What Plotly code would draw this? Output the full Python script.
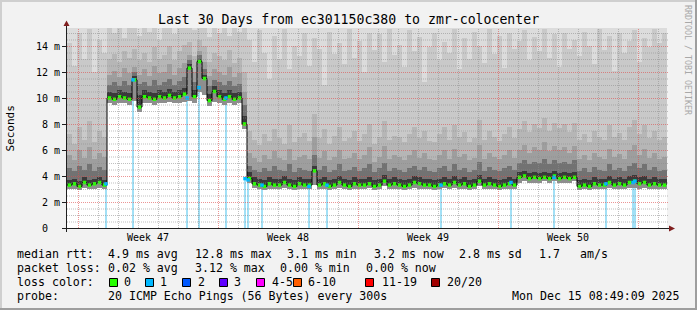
import plotly.graph_objects as go

# ---------------- data ----------------
BIN_DAYS = 0.25          # one column = 6 hours, 120 columns = 30 days

median = [3.3,3.4,3.2,3.5,3.3,3.4,3.5,3.3,10.0,9.9,
          10.1,10.0,9.9,11.4,9.3,10.1,10.0,9.9,10.1,10.0,
          10.2,10.0,10.1,10.3,12.3,10.1,12.8,11.5,9.8,10.5,
          10.1,9.9,10.1,9.9,10.0,8.0,3.8,3.4,3.3,3.2,
          3.4,3.3,3.3,3.5,3.3,3.2,3.4,3.3,3.3,4.4,
          3.3,3.4,3.2,3.3,3.5,3.3,3.2,3.4,3.3,3.3,
          3.4,3.2,3.3,3.6,3.3,3.4,3.3,3.2,3.3,3.5,
          3.4,3.3,3.3,3.2,3.3,3.4,3.3,3.5,3.3,3.4,
          3.2,3.3,3.6,3.3,3.4,3.3,3.2,3.3,3.4,3.3,
          3.9,4.0,3.8,3.9,3.8,3.9,3.8,4.0,3.8,3.9,
          3.8,3.9,3.2,3.3,3.2,3.4,3.3,3.3,3.5,3.3,
          3.4,3.3,3.5,3.6,3.4,3.5,3.3,3.4,3.3,3.3]

ping_min = [3.0,3.0,2.9,3.1,3.0,3.0,3.1,3.0,9.6,9.5,
            9.6,9.6,9.5,9.8,8.9,9.6,9.6,9.5,9.6,9.6,
            9.7,9.6,9.6,9.7,9.8,9.6,10.5,10.2,9.4,9.7,
            9.6,9.5,9.6,9.5,9.6,7.6,3.5,3.1,3.0,2.9,
            3.0,3.0,3.0,3.1,3.0,2.9,3.0,3.0,3.0,3.3,
            3.0,3.0,2.9,3.0,3.1,3.0,2.9,3.0,3.0,3.0,
            3.1,2.9,3.0,3.2,3.0,3.0,3.0,2.9,3.0,3.1,
            3.0,3.0,3.0,2.9,3.0,3.1,3.0,3.1,3.0,3.0,
            2.9,3.0,3.2,3.0,3.0,3.0,2.9,3.0,3.0,3.0,
            3.5,3.6,3.5,3.5,3.5,3.6,3.5,3.6,3.5,3.5,
            3.5,3.6,2.9,3.0,2.9,3.0,3.0,3.0,3.1,3.0,
            3.0,3.0,3.1,3.1,3.0,3.1,3.0,3.0,3.0,3.0]

smoke_1 = [3.7,3.8,3.6,3.9,3.7,3.8,3.9,3.7,10.5,10.4,
           10.6,10.5,10.4,11.7,10.2,10.6,10.5,10.4,10.6,10.5,
           10.7,10.5,10.6,10.8,12.6,10.6,13.0,11.8,10.3,10.9,
           10.6,10.4,10.6,10.4,10.5,8.6,4.3,3.9,3.8,3.7,
           3.9,3.8,3.8,4.0,3.8,3.7,3.9,3.8,3.8,4.8,
           3.8,3.9,3.7,3.8,4.0,3.8,3.7,3.9,3.8,3.8,
           3.9,3.7,3.8,4.1,3.8,3.9,3.8,3.7,3.8,4.0,
           3.9,3.8,3.8,3.7,3.8,3.9,3.8,4.0,3.8,3.9,
           3.7,3.8,4.1,3.8,3.9,3.8,3.7,3.8,3.9,3.8,
           4.3,4.4,4.2,4.3,4.2,4.3,4.2,4.4,4.2,4.3,
           4.2,4.3,3.7,3.8,3.7,3.9,3.8,3.8,4.0,3.8,
           3.9,3.8,4.0,4.1,3.9,4.0,3.8,3.9,3.8,3.8]

smoke_2 = [4.6,4.4,4.8,4.5,4.9,4.4,4.7,4.5,11.0,11.2,
           10.9,11.3,11.0,12.0,11.1,11.2,10.9,11.4,11.0,11.2,
           11.5,11.0,11.3,11.6,12.9,11.2,13.3,12.2,10.9,11.4,
           11.2,11.0,11.3,10.9,11.1,9.5,4.8,4.5,4.3,4.6,
           4.4,4.8,4.5,4.4,4.9,4.3,4.6,4.5,4.4,5.6,
           4.5,4.8,4.3,4.5,4.9,4.4,4.5,4.7,4.4,4.6,
           4.9,4.3,4.6,5.0,4.4,4.6,4.5,4.3,4.6,4.8,
           4.5,4.7,4.4,4.3,4.6,4.8,4.4,4.9,4.5,4.6,
           4.3,4.5,5.1,4.4,4.7,4.5,4.4,4.6,4.8,4.5,
           5.0,5.2,4.9,5.1,5.0,5.3,4.9,5.2,5.0,5.1,
           4.9,5.2,4.4,4.6,4.3,4.7,4.5,4.4,4.9,4.5,
           4.6,4.4,4.8,5.0,4.6,4.9,4.5,4.7,4.4,4.5]

smoke_3 = [5.6,5.2,6.0,5.4,6.2,5.3,5.8,5.5,11.8,12.1,
           11.6,12.3,11.9,12.4,11.8,12.2,11.7,12.5,11.9,12.0,
           12.6,11.8,12.3,12.7,13.3,12.0,13.6,12.8,11.7,12.2,
           12.0,11.8,12.4,11.6,11.9,10.5,5.8,5.4,5.1,5.6,
           5.3,5.9,5.4,5.2,6.1,5.2,5.5,5.6,5.3,7.0,
           5.4,5.9,5.2,5.5,6.0,5.3,5.4,5.8,5.3,5.6,
           6.2,5.1,5.5,6.3,5.3,5.6,5.5,5.2,5.6,6.0,
           5.4,5.8,5.3,5.2,5.6,6.0,5.3,6.1,5.5,5.7,
           5.2,5.4,6.4,5.3,5.8,5.5,5.3,5.6,6.0,5.4,
           6.0,6.4,5.8,6.2,6.0,6.6,5.9,6.3,6.0,6.2,
           5.8,6.3,5.3,5.6,5.2,5.8,5.5,5.3,6.1,5.5,
           5.7,5.3,6.0,6.4,5.6,6.1,5.4,5.8,5.3,5.5]

smoke_4 = [7.2,6.5,7.8,6.8,8.2,6.6,7.5,7.0,13.0,13.4,
           12.8,13.6,13.1,13.8,12.9,13.5,12.8,13.9,13.0,13.3,
           14.0,12.9,13.6,14.1,14.3,13.2,14.5,14.0,12.8,13.5,
           13.2,12.9,13.7,12.7,13.1,12.0,7.5,6.8,6.4,7.2,
           6.7,7.6,6.9,6.5,7.9,6.6,7.0,7.3,6.7,8.8,
           6.9,7.6,6.5,7.1,7.8,6.7,6.9,7.5,6.7,7.2,
           8.0,6.5,7.0,8.2,6.8,7.1,7.0,6.6,7.2,7.8,
           6.9,7.5,6.7,6.6,7.2,7.8,6.8,7.9,7.0,7.4,
           6.6,6.9,8.3,6.8,7.5,7.0,6.7,7.2,7.8,6.9,
           7.6,8.2,7.4,8.0,7.7,8.5,7.5,8.1,7.7,8.0,
           7.4,8.1,6.8,7.2,6.6,7.5,7.0,6.8,7.9,7.0,
           7.3,6.8,7.8,8.3,7.2,7.9,6.9,7.5,6.8,7.0]

smoke_5 = [14.2,12.5,15.0,13.0,15.3,12.0,14.5,13.5,15.4,15.0,
           15.4,14.6,15.4,15.4,14.8,15.4,15.1,15.4,14.5,15.4,
           15.4,14.9,15.4,15.4,15.4,15.2,15.4,15.4,14.7,15.4,
           15.0,15.4,14.8,15.4,15.1,15.4,14.5,12.8,15.2,13.5,
           11.5,14.8,13.0,15.3,12.2,14.0,13.2,15.0,12.5,14.6,
           13.8,11.0,15.1,13.4,14.2,12.6,15.3,13.1,14.4,12.0,
           15.0,13.7,14.9,12.8,15.3,13.3,14.1,12.4,15.2,13.6,
           14.7,11.2,13.9,15.0,12.9,14.3,13.5,15.3,12.2,14.6,
           13.0,15.1,14.0,12.7,15.3,13.4,14.8,12.3,15.0,13.8,
           14.4,15.2,12.9,14.7,13.6,15.3,13.1,14.9,12.4,15.0,
           13.8,14.5,13.2,15.1,14.0,12.6,15.3,13.7,14.8,12.1,
           15.0,13.5,14.4,15.2,12.8,14.6,13.9,15.3,14.2,15.0]

# outermost ping: above the top of the chart everywhere (clipped)
ping_max = [17.1,18.4,16.9,19.2,17.7,18.0,16.5,17.9,19.8,20.3,
            18.6,19.1,17.4,21.0,18.2,19.5,18.8,20.1,17.6,18.9,
            19.4,18.1,20.6,19.9,21.7,18.5,22.3,20.8,17.8,19.3,
            18.7,19.6,18.3,20.0,18.9,19.2,17.3,16.8,18.1,17.0,
            16.6,17.8,16.9,18.3,16.7,17.5,17.1,18.6,16.8,17.9,
            17.2,16.5,18.0,17.4,17.7,16.9,18.4,17.0,17.6,16.7,
            18.2,17.3,17.9,16.8,18.5,17.1,17.6,16.9,18.1,17.4,
            17.8,16.6,17.5,18.3,17.0,17.7,17.2,18.4,16.8,17.9,
            17.1,18.2,17.6,16.9,18.5,17.3,17.8,16.7,18.0,17.4,
            17.9,18.6,17.0,18.1,17.5,18.7,17.2,18.3,16.9,18.2,
            17.6,18.0,17.1,18.4,17.7,16.9,18.6,17.3,17.9,16.8,
            18.2,17.4,17.8,18.5,17.0,17.9,17.5,18.6,17.7,18.1]

loss_day = [1.95, 3.3, 6.0, 6.6, 7.95, 8.9, 9.05, 9.75, 12.1, 13.0,
            18.7, 22.2, 24.35, 26.95, 28.3, 28.4]
loss_rtt = [3.4, 11.4, 10.0, 10.8, 10.0, 3.8, 3.7, 3.3, 3.2, 3.3,
            3.3, 3.5, 3.9, 3.4, 3.5, 3.6]

week_day = [4.05, 11.05, 18.05, 25.05]
week_text = ["Week 47", "Week 48", "Week 49", "Week 50"]
ytick_vals = [0, 2, 4, 6, 8, 10, 12, 14]
ytick_text = ["0\u00a0\u00a0", "2 m", "4 m", "6 m", "8 m", "10 m", "12 m", "14 m"]

title_text = "Last 30 Days from ec301150c380 to zmr-colocenter"
rtt_label = "median rtt:"
rtt_stats = ["4.9 ms avg", "12.8 ms max", "3.1 ms min", "3.2 ms now", "2.8 ms sd", "1.7", "am/s"]
loss_label = "packet loss:"
loss_stats = ["0.02 % avg", "3.12 % max", "0.00 % min", "0.00 % now"]
color_label = "loss color:"
loss_classes = ["0", "1", "2", "3", "4-5", "6-10", "11-19", "20/20"]
loss_colors = ["#26ff00", "#00b8ff", "#0059ff", "#5e00ff", "#ff00ff", "#ff5e00", "#ff0000", "#a10000"]
probe_label = "probe:"
probe_text = "20 ICMP Echo Pings (56 Bytes) every 300s"
stamp_text = "Mon Dec 15 08:49:09 2025"
watermark = "RRDTOOL / TOBI OETIKER"

# ---------------- layout helpers ----------------
W, H = 697, 310
L, R, T, B = 67, 667, 28, 228
YMAX = 200 / 13.0
FONT = "DejaVu Sans Mono"


def px(x):
    return (x - L) / (R - L)


def py(y):
    return (B - y) / (B - T)


n = len(median)
starts = [i * BIN_DAYS for i in range(n)]
centers = [s + BIN_DAYS / 2 for s in starts]

fig = go.Figure()

# loss stripes
fig.add_trace(go.Bar(x=loss_day, y=loss_rtt, base=[0] * len(loss_day), width=0.1,
                     marker=dict(color="#a2e0f6", line=dict(width=0)), hoverinfo="skip"))

bands = [
    (ping_min, median, "#8e8e8e"),
    (median, smoke_1, "#3a3a3a"),
    (smoke_1, smoke_2, "#727272"),
    (smoke_2, smoke_3, "#9e9e9e"),
    (smoke_3, smoke_4, "#b6b6b6"),
    (smoke_4, smoke_5, "#c9c9c9"),
    (smoke_5, ping_max, "#dcdcdc"),
]
for lo, hi, col in bands:
    fig.add_trace(go.Bar(x=centers, y=[h - l for l, h in zip(lo, hi)], base=lo, width=BIN_DAYS,
                         marker=dict(color=col, line=dict(width=0)), hoverinfo="skip"))

fig.add_trace(go.Scatter(x=starts, y=median, mode="lines",
                         line=dict(color="#000000", width=1, shape="hv"), hoverinfo="skip"))
fig.add_trace(go.Scatter(x=centers, y=median, mode="markers",
                         marker=dict(symbol="square", size=3.5, color=loss_colors[0], line=dict(width=0)),
                         hoverinfo="skip"))
fig.add_trace(go.Scatter(x=loss_day, y=loss_rtt, mode="markers",
                         marker=dict(symbol="square", size=3.5, color=loss_colors[1], line=dict(width=0)),
                         hoverinfo="skip"))

shapes = []
# grid (drawn above the smoke, like rrdtool)
for k in range(30):
    d = 0.575 + k
    major = (k % 7 == 0)
    shapes.append(dict(type="line", xref="x", yref="paper", x0=d, x1=d, y0=0, y1=1, layer="above",
                       line=dict(color="rgba(222,79,79,0.6)" if major else "rgba(140,140,140,0.55)",
                                 width=1, dash="1px,1px")))
for j in range(1, 31):
    v = 0.5 * j - 0.5 / 13
    major = (j % 4 == 0)
    shapes.append(dict(type="line", xref="paper", yref="y", x0=0, x1=px(668), y0=v, y1=v, layer="above",
                       line=dict(color="rgba(222,79,79,0.6)" if major else "rgba(140,140,140,0.55)",
                                 width=1, dash="1px,1px")))
# axes with arrows
shapes.append(dict(type="line", xref="paper", yref="paper", x0=px(62), x1=px(670), y0=py(228.5), y1=py(228.5),
                   layer="above", line=dict(color="#1f1f1f", width=1)))
shapes.append(dict(type="line", xref="paper", yref="paper", x0=px(66.5), x1=px(66.5), y0=py(232), y1=py(25),
                   layer="above", line=dict(color="#1f1f1f", width=1)))
shapes.append(dict(type="path", xref="paper", yref="paper", layer="above",
                   path=f"M {px(669)} {py(225.5)} L {px(675)} {py(228.5)} L {px(669)} {py(231.5)} Z",
                   fillcolor="#801f1f", line=dict(width=0)))
shapes.append(dict(type="path", xref="paper", yref="paper", layer="above",
                   path=f"M {px(63.5)} {py(26)} L {px(66.5)} {py(20.5)} L {px(69.5)} {py(26)} Z",
                   fillcolor="#801f1f", line=dict(width=0)))
# frame shading
for (x0, y0, x1, y1, c) in [(0, 0, W, 2, "#cfcfcf"), (0, 0, 2, H, "#cfcfcf"),
                            (0, H - 2, W, H, "#9e9e9e"), (W - 2, 0, W, H, "#9e9e9e")]:
    shapes.append(dict(type="rect", xref="paper", yref="paper", x0=px(x0), x1=px(x1), y0=py(y0), y1=py(y1),
                       fillcolor=c, line=dict(width=0), layer="above"))
# loss colour boxes
box_left = [109, 145, 182, 219, 256, 293, 365, 431]
for bx, col in zip(box_left, loss_colors):
    shapes.append(dict(type="rect", xref="paper", yref="paper", x0=px(bx + 0.5), x1=px(bx + 8.5),
                       y0=py(278.5), y1=py(286.5), fillcolor=col, line=dict(color="#000000", width=1),
                       layer="above"))

ann = []


def text(s, x, y, size=11.6, anchor="left", color="#000000", angle=0):
    ann.append(dict(text=s, xref="paper", yref="paper", x=px(x), y=py(y), xanchor=anchor, yanchor="middle",
                    showarrow=False, borderpad=0, textangle=angle,
                    font=dict(family=FONT, size=size, color=color)))


text(title_text, 348.5, 19.5, size=13.2, anchor="center")
text("Seconds", 10, 128.5, size=11, anchor="center", angle=-90)
text(watermark, 688, 60, size=8.3, anchor="center", color="#a8a8a8", angle=90)
for v, s in zip(ytick_vals, ytick_text):
    text(s, 60.5, B - 13 * v + 0.5, size=10, anchor="right")
for d, s in zip(week_day, week_text):
    ann.append(dict(text=s, xref="x", yref="paper", x=d, y=py(237), xanchor="center", yanchor="middle",
                    showarrow=False, borderpad=0, font=dict(family=FONT, size=10, color="#000000")))

text(rtt_label, 16, 254)
for s, x in zip(rtt_stats, [107, 194, 286, 373, 458, 538, 579]):
    text(s, x, 254)
text(loss_label, 16, 268)
for s, x in zip(loss_stats, [107, 194, 279, 365]):
    text(s, x, 268)
text(color_label, 16, 282)
for s, x in zip(loss_classes, [123, 159, 197, 233, 271, 307, 381, 446]):
    text(s, x, 282)
text(probe_label, 16, 296)
text(probe_text, 107, 296)
text(stamp_text, 681, 296, anchor="right")

fig.update_layout(
    width=W, height=H, autosize=False,
    margin=dict(l=L, r=W - R, t=T, b=H - B, pad=0),
    paper_bgcolor="#f2f2f2", plot_bgcolor="#ffffff",
    barmode="overlay", bargap=0, showlegend=False,
    shapes=shapes, annotations=ann,
    xaxis=dict(range=[0, 30], showgrid=False, zeroline=False, showline=False, showticklabels=False,
               ticks="", fixedrange=True),
    yaxis=dict(range=[0, YMAX], showgrid=False, zeroline=False, showline=False, showticklabels=False,
               ticks="outside", tickvals=ytick_vals, ticklen=4, tickwidth=1, tickcolor="#1f1f1f",
               fixedrange=True),
)

fig.write_html("out.html")
